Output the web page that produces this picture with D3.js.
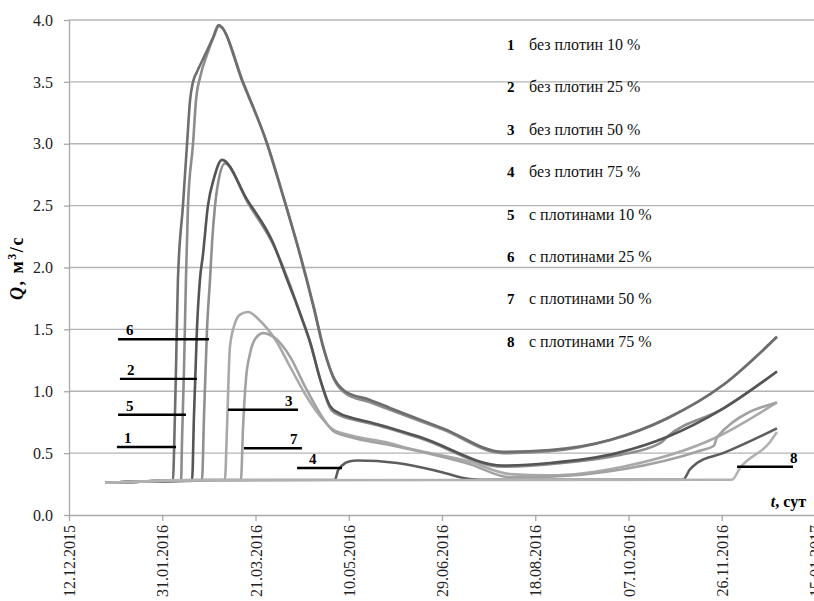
<!DOCTYPE html>
<html>
<head>
<meta charset="utf-8">
<script src="https://cdnjs.cloudflare.com/ajax/libs/d3/7.8.5/d3.min.js"></script>
<style>
  body { margin: 0; background: #fff; }
  svg text { font-family: "Liberation Serif", "Times New Roman", serif; }
</style>
</head>
<body>
<div id="chart"></div>
<script>
// x values are days counted from 12.12.2015, y values are Q in m3/s
var startDate = Date.UTC(2015, 11, 12);

var q1 = [[19.3,0.26],[38,0.27],[55.8,0.28],[56.3,0.5],[57.4,1.2],[58.4,1.9],[61.1,2.5],[63.3,3.0],[64.9,3.35],
  [66.5,3.5],[68.6,3.58],[73,3.72],[77.3,3.86],[80.2,3.96],[93.3,3.49],[106.2,3.0],[114.7,2.58],[123.9,2.1],
  [130.8,1.7],[136.2,1.36],[141.6,1.12],[148,1.0],[161.4,0.93],[172.1,0.865],[200.5,0.7],[232.7,0.51],[257.9,0.525],
  [290.1,0.606],[320.6,0.78],[350.7,1.05],[379.6,1.44]];
var q2 = [[19.3,0.26],[38,0.27],[66,0.28],[67,0.8],[68.6,1.5],[70.2,1.9],[71.8,2.1],[74.5,2.5],[77.7,2.72],
  [82,2.87],[95.4,2.55],[109.4,2.2],[117,1.9],[123.9,1.63],[129.2,1.4],[134.6,1.1],[140,0.88],[145.3,0.82],
  [150.7,0.79],[161.4,0.75],[188.2,0.63],[232.7,0.4],[257.9,0.42],[293.8,0.5],[320.6,0.63],[350.7,0.86],[379.6,1.16]];
var q3 = [[19.3,0.26],[38,0.27],[55.8,0.28],[83.6,0.285],[84.7,0.7],[86.3,1.36],[89,1.55],[91.7,1.62],[96,1.64],
  [102.4,1.57],[110.5,1.42],[118.5,1.2],[126.5,0.98],[134.6,0.8],[141.6,0.69],[150.7,0.645],[172.1,0.58],
  [179.1,0.55],[215,0.43],[236.5,0.33],[257.9,0.32],[297,0.39],[347.5,0.63],[379.6,0.91]];
var q4 = [[19.3,0.26],[38,0.27],[55.8,0.28],[142.6,0.285],[144.2,0.36],[146.4,0.4],[150.7,0.435],[154.4,0.44],
  [175.9,0.42],[198.9,0.35],[215,0.29],[220.4,0.285],[329.2,0.285],[333,0.37],[336.7,0.42],[350.7,0.5],[379.6,0.7]];
var q5 = [[19.3,0.26],[38,0.27],[60.1,0.28],[60.6,0.6],[61.7,1.2],[62.7,1.9],[63.8,2.5],[66.5,3.0],[68.1,3.35],
  [70.5,3.55],[74,3.72],[77.5,3.86],[80.4,3.95],[93.8,3.48],[106.7,2.98],[115.2,2.56],[124.4,2.08],[131.3,1.68],
  [136.7,1.34],[142,1.1],[148.5,0.98],[161.5,0.91],[172.1,0.85],[200.5,0.69],[232.7,0.5],[257.9,0.515],
  [290.1,0.606],[320.6,0.78],[350.7,1.05],[379.6,1.44]];
var q6 = [[19.3,0.26],[38,0.27],[71.3,0.28],[72.4,0.8],[74,1.5],[75.6,1.9],[76.7,2.2],[78.3,2.5],[80.4,2.72],
  [83.6,2.84],[96,2.52],[110,2.17],[118,1.88],[124.5,1.6],[129.8,1.37],[135.2,1.07],[140.6,0.85],[146,0.8],
  [151,0.775],[161.5,0.74],[188.5,0.62],[232.7,0.39],[257.9,0.41],[293.8,0.48],[317,0.58],[320.6,0.63],
  [350.7,0.86],[379.6,1.16]];
var q7 = [[19.3,0.26],[38,0.27],[55.8,0.28],[92.2,0.285],[93.3,0.7],[94.9,1.1],[97,1.3],[99.7,1.42],[104,1.47],
  [110.5,1.43],[118.5,1.28],[126.5,1.04],[134.6,0.82],[141.6,0.68],[150.7,0.63],[172.1,0.565],[215,0.41],
  [236.5,0.305],[257.9,0.31],[297,0.37],[338.3,0.52],[345.8,0.56],[347.5,0.63],[379.6,0.91]];
var q8 = [[19.3,0.26],[38,0.27],[55.8,0.28],[355.5,0.285],[359.8,0.38],[375.9,0.59],[379.6,0.67]];

var seriesNumbers = ["1", "2", "3", "4", "5", "6", "7", "8"];
var seriesNames = ["без плотин 10 %", "без плотин 25 %", "без плотин 50 %", "без плотин 75 %",
  "с плотинами 10 %", "с плотинами 25 %", "с плотинами 50 %", "с плотинами 75 %"];
var seriesData = [q1, q2, q3, q4, q5, q6, q7, q8];

// short marker lines with the series number: level, from day, to day, label day
var markLevel = [0.55, 1.10, 0.85, 0.38, 0.81, 1.42, 0.54, 0.39];
var markFrom = [25.7, 27.3, 85.3, 122.3, 26.3, 26.3, 93.8, 358.2];
var markTo = [57.4, 68.6, 122.8, 146.4, 62.7, 75.1, 124.9, 388.2];
var markLabelAt = [29.5, 31.1, 115.8, 128.7, 30.6, 30.6, 118.5, 386.6];

var tickDays = [0, 50, 100, 150, 200, 250, 300, 350, 400];
var yTicks = [0, 0.5, 1, 1.5, 2, 2.5, 3, 3.5, 4];

var width = 814, height = 601;
var margin = {top: 20, right: -1, bottom: 86, left: 69};
var serif = "Liberation Serif";

function dayToDate(d) { return new Date(startDate + d * 864e5); }

var svg = d3.select("#chart").append("svg")
  .attr("width", width)
  .attr("height", height)
  .attr("font-family", serif);

var x = d3.scaleUtc()
  .domain([dayToDate(0), dayToDate(400)])
  .range([margin.left, width - margin.right]);

var y = d3.scaleLinear()
  .domain([0, 4])
  .range([height - margin.bottom, margin.top]);

// horizontal grid
svg.append("g")
  .selectAll("line")
  .data(yTicks.slice(1))
  .enter().append("line")
  .attr("x1", margin.left).attr("x2", width)
  .attr("y1", function(d) { return y(d); })
  .attr("y2", function(d) { return y(d); })
  .attr("stroke", "#b4b4b4")
  .attr("stroke-width", 1.3);

// Y axis
var yAxis = svg.append("g")
  .attr("transform", "translate(" + margin.left + ",0)")
  .call(d3.axisLeft(y).tickValues(yTicks).tickFormat(d3.format(".1f")).tickSize(5).tickSizeOuter(0));
yAxis.attr("font-family", serif);
yAxis.select(".domain").attr("stroke", "#a8a8a8").attr("stroke-width", 1.3);
yAxis.selectAll(".tick line").attr("stroke", "#a8a8a8").attr("stroke-width", 1.3);
yAxis.selectAll("text")
  .attr("x", -16)
  .attr("font-size", 16)
  .attr("fill", "#222");

// X axis with rotated date labels
var xAxis = svg.append("g")
  .attr("transform", "translate(0," + y(0) + ")")
  .call(d3.axisBottom(x)
    .tickValues(tickDays.map(dayToDate))
    .tickFormat(d3.utcFormat("%d.%m.%Y"))
    .tickSize(6).tickSizeOuter(0));
xAxis.attr("font-family", serif);
xAxis.select(".domain").attr("stroke", "#a8a8a8").attr("stroke-width", 1.3);
xAxis.selectAll(".tick line").attr("stroke", "#a8a8a8").attr("stroke-width", 1.3);
xAxis.selectAll("text")
  .attr("transform", "rotate(-90)")
  .attr("text-anchor", "end")
  .attr("x", -10)
  .attr("y", 0)
  .attr("dy", "0.35em")
  .attr("font-size", 16)
  .attr("fill", "#222");

// curves
var colors = ["#6e6e6e", "#555555", "#a9a9a9", "#5c5c5c", "#8c8c8c", "#8f8f8f", "#a2a2a2", "#b2b2b2"];
var drawOrder = [4, 0, 5, 1, 3, 2, 6, 7];

var line = d3.line()
  .x(function(d) { return x(dayToDate(d[0])); })
  .y(function(d) { return y(d[1]); })
  .curve(d3.curveMonotoneX);

svg.append("g")
  .selectAll("path")
  .data(drawOrder)
  .enter().append("path")
  .attr("d", function(i) { return line(seriesData[i]); })
  .attr("fill", "none")
  .attr("stroke", function(i) { return colors[i]; })
  .attr("stroke-width", 2.6)
  .attr("stroke-linejoin", "round");

// marker lines and numbers
var marks = svg.append("g");
marks.selectAll("line")
  .data(seriesNumbers)
  .enter().append("line")
  .attr("x1", function(d, i) { return x(dayToDate(markFrom[i])); })
  .attr("x2", function(d, i) { return x(dayToDate(markTo[i])); })
  .attr("y1", function(d, i) { return y(markLevel[i]); })
  .attr("y2", function(d, i) { return y(markLevel[i]); })
  .attr("stroke", "#000")
  .attr("stroke-width", 2.4);
marks.selectAll("text")
  .data(seriesNumbers)
  .enter().append("text")
  .attr("x", function(d, i) { return x(dayToDate(markLabelAt[i])); })
  .attr("y", function(d, i) { return y(markLevel[i]) - 4; })
  .attr("font-size", 15)
  .attr("font-weight", "bold")
  .text(function(d) { return d; });

// legend
var legend = svg.append("g")
  .selectAll("g")
  .data(seriesNames)
  .enter().append("g")
  .attr("transform", function(d, i) { return "translate(507," + (50 + i * 42.4) + ")"; });
legend.append("text")
  .attr("font-size", 15)
  .attr("font-weight", "bold")
  .text(function(d, i) { return seriesNumbers[i]; });
legend.append("text")
  .attr("x", 22)
  .attr("font-size", 16)
  .attr("fill", "#111")
  .text(function(d) { return d; });

// axis titles
var yTitle = svg.append("text")
  .attr("transform", "translate(23,268) rotate(-90)")
  .attr("text-anchor", "middle")
  .attr("font-size", 18)
  .attr("letter-spacing", 1.5)
  .attr("font-weight", "bold");
yTitle.append("tspan").attr("font-style", "italic").text("Q");
yTitle.append("tspan").text(", м");
yTitle.append("tspan").attr("font-size", 12).attr("dy", -7).text("3");
yTitle.append("tspan").attr("dy", 7).text("/с");

var xTitle = svg.append("text")
  .attr("x", 806)
  .attr("y", 507)
  .attr("text-anchor", "end")
  .attr("font-size", 16)
  .attr("font-weight", "bold");
xTitle.append("tspan").attr("font-style", "italic").text("t");
xTitle.append("tspan").text(", сут");
</script>
</body>
</html>
